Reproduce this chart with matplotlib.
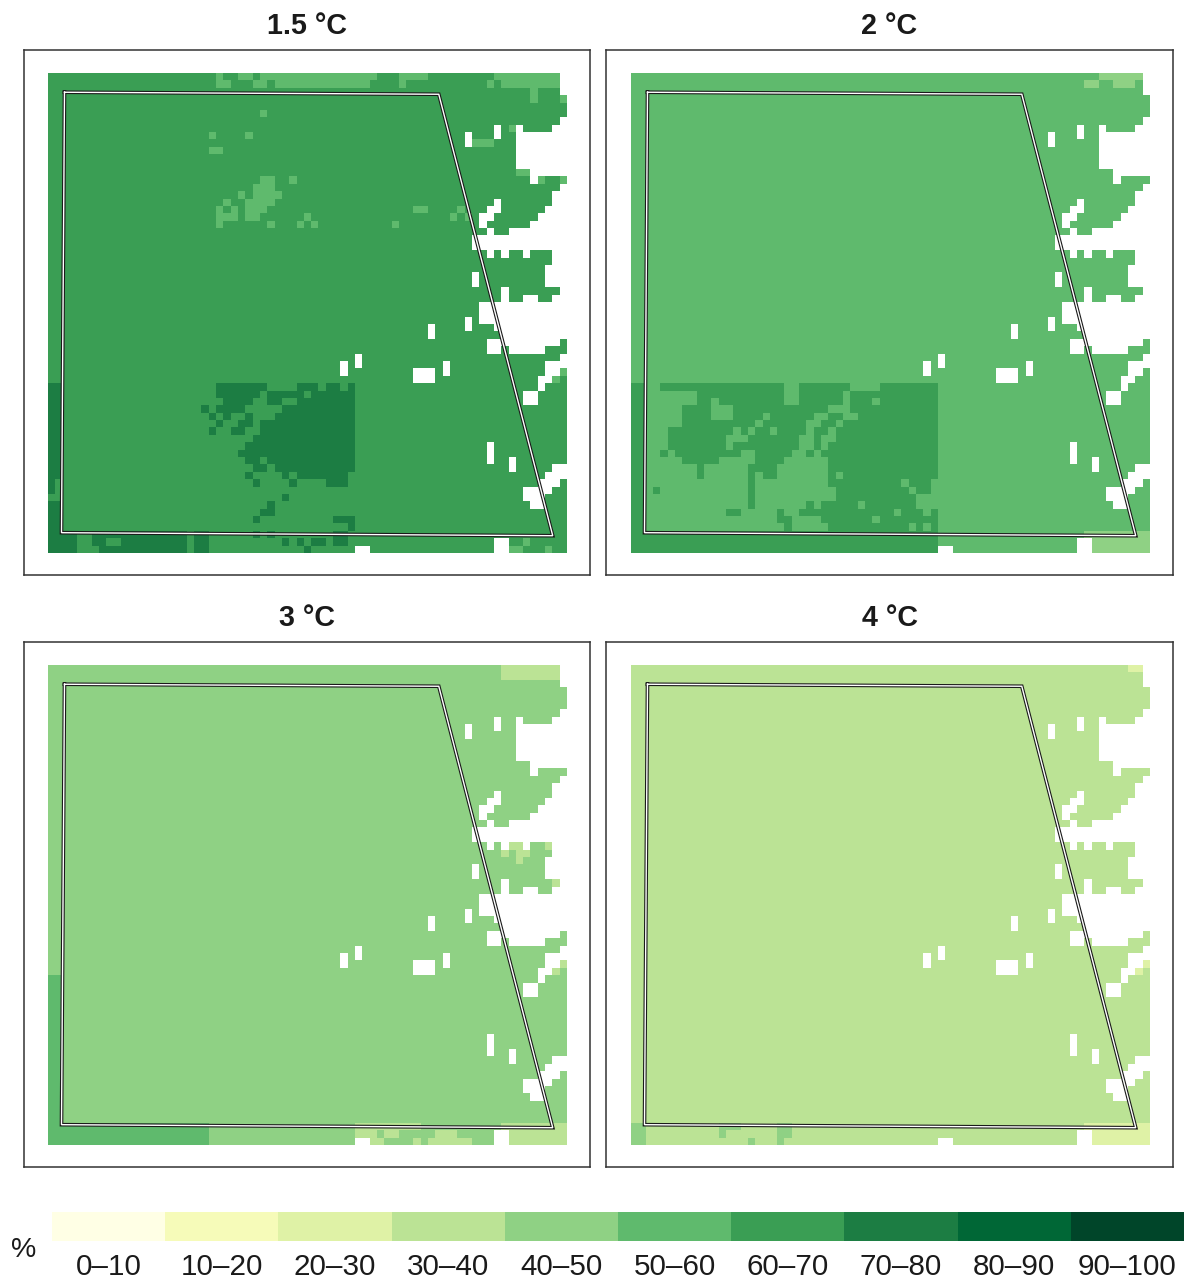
"""Four warming levels, maps of binned percent values with a shared band legend."""

import numpy as np
import matplotlib
matplotlib.use("Agg")
import matplotlib.pyplot as plt
from matplotlib.colors import BoundaryNorm, ListedColormap

plt.rcParams["font.family"] = ["Liberation Sans", "DejaVu Sans"]

# ── Bands ───────────────────────────────────────────────────────────────────────
BAND_LABELS = ["0–10", "10–20", "20–30", "30–40", "40–50",
               "50–60", "60–70", "70–80", "80–90", "90–100"]
BAND_EDGES = [0, 10, 20, 30, 40, 50, 60, 70, 80, 90, 100]
BAND_COLORS = ["#ffffe5", "#f6fbb9", "#dff2a6", "#bbe395", "#8fd184",
               "#5fba6d", "#3a9e54", "#1c7d43", "#006736", "#004529"]
TITLES = ["1.5 °C", "2 °C", "3 °C", "4 °C"]

N_ROWS = 65
N_COLS = 71

# ── Cells without data: {row: [(first col, last col), ...]} ────────────────────
NO_DATA = {
    0: [(70, 70)], 1: [(70, 70)], 2: [(70, 70)], 6: [(70, 70)],
    7: [(61, 61), (64, 64), (69, 70)],
    8: [(57, 57), (61, 61), (64, 70)],
    9: [(57, 57), (64, 70)],
    10: [(64, 70)], 11: [(64, 70)], 12: [(64, 70)],
    13: [(66, 70)], 14: [(66, 66)], 15: [(70, 70)], 16: [(69, 70)],
    17: [(61, 61), (69, 70)],
    18: [(60, 61), (68, 70)],
    19: [(59, 60), (67, 70)],
    20: [(59, 59), (66, 70)],
    21: [(60, 60), (63, 70)],
    22: [(58, 70)], 23: [(58, 70)],
    24: [(60, 60), (62, 62), (65, 65), (69, 70)],
    25: [(69, 70)], 26: [(68, 70)],
    27: [(58, 58), (68, 70)], 28: [(58, 58), (68, 70)],
    29: [(62, 62), (70, 70)],
    30: [(62, 62), (65, 66), (69, 70)],
    31: [(59, 70)], 32: [(59, 70)],
    33: [(57, 57), (59, 70)],
    34: [(52, 52), (57, 57), (61, 70)],
    35: [(52, 52), (62, 70)],
    36: [(60, 69)],
    37: [(60, 61), (63, 67)],
    38: [(42, 42), (70, 70)],
    39: [(40, 40), (42, 42), (54, 54), (68, 70)],
    40: [(40, 40), (50, 52), (54, 54), (68, 69)],
    41: [(50, 52), (67, 68)],
    42: [(67, 67)], 43: [(65, 66)], 44: [(65, 66)],
    50: [(60, 60)], 51: [(60, 60)],
    52: [(60, 60), (63, 63)],
    53: [(63, 63), (69, 70)],
    54: [(68, 70)], 55: [(67, 69)], 56: [(65, 68)], 57: [(65, 67)], 58: [(66, 67)],
    63: [(61, 62)],
    64: [(42, 43), (61, 62)],
}

# ── 1.5 °C: base 65, patches of 55 and 75 ──────────────────────────────────────
P15_BASE = 65
P15_55 = {
    0: [(23, 23), (26, 27), (29, 44), (48, 51), (61, 69)],
    1: [(23, 24), (28, 29), (31, 43), (48, 48), (60, 60), (62, 69)],
    2: [(66, 66)],
    3: [(66, 66), (70, 70)],
    5: [(29, 29)],
    7: [(63, 63)],
    8: [(22, 22), (27, 27)],
    9: [(58, 60)],
    10: [(22, 23)],
    13: [(64, 65)],
    14: [(29, 30), (33, 33), (67, 67), (70, 70)],
    15: [(28, 30)],
    16: [(26, 26), (28, 31)],
    17: [(24, 24), (27, 30)],
    18: [(23, 23), (25, 25), (27, 29), (50, 51), (56, 56)],
    19: [(23, 25), (27, 28), (35, 35), (55, 55), (57, 57)],
    20: [(23, 23), (30, 30), (34, 34), (36, 36), (47, 47)],
    41: [(69, 69)],
    40: [(70, 70)],
    63: [(65, 65)],
    64: [(63, 64), (68, 68)],
}
P15_75 = {
    42: [(0, 1), (23, 29), (34, 36), (38, 39), (41, 41)],
    43: [(0, 1), (23, 28), (30, 34), (36, 41)],
    44: [(0, 1), (24, 27), (30, 31), (34, 41)],
    45: [(0, 1), (21, 21), (23, 26), (32, 41)],
    46: [(0, 1), (22, 22), (24, 24), (27, 27), (31, 41)],
    47: [(0, 1), (23, 23), (26, 27), (29, 41)],
    48: [(0, 1), (22, 22), (25, 26), (29, 41)],
    49: [(0, 1), (28, 41)],
    50: [(0, 1), (27, 41)],
    51: [(0, 1), (26, 41)],
    52: [(0, 1), (27, 28), (30, 41)],
    53: [(0, 1), (28, 29), (31, 41)],
    54: [(0, 1), (27, 27), (32, 32), (34, 40)],
    55: [(0, 0), (28, 28), (33, 33), (38, 40)],
    56: [(0, 0)],
    57: [(32, 32)],
    58: [(0, 1), (30, 30)],
    59: [(0, 1), (29, 30)],
    60: [(0, 1), (28, 28), (39, 41)],
    61: [(0, 1), (41, 41)],
    62: [(0, 3), (6, 18), (20, 21), (28, 28), (30, 30), (39, 40)],
    63: [(0, 3), (6, 7), (10, 18), (20, 21), (32, 32), (34, 34), (36, 37), (39, 40)],
    64: [(0, 3), (7, 18), (20, 21), (35, 35)],
}

# ── 2 °C: base 55, patches of 45 and 65 ────────────────────────────────────────
P2_BASE = 55
P2_45 = {
    0: [(64, 69)],
    1: [(62, 63), (66, 68)],
    62: [(62, 70)],
    63: [(63, 70)],
    64: [(63, 70)],
}
P2_65 = {
    42: [(0, 1), (4, 20), (23, 29), (34, 41)],
    43: [(0, 1), (9, 20), (23, 28), (30, 41)],
    44: [(0, 1), (9, 10), (12, 20), (23, 28), (30, 32), (34, 41)],
    45: [(0, 1), (7, 10), (14, 26), (30, 41)],
    46: [(0, 1), (7, 10), (14, 17), (19, 24), (27, 28), (31, 41)],
    47: [(0, 1), (7, 16), (18, 23), (26, 27), (29, 41)],
    48: [(0, 1), (5, 13), (15, 15), (17, 18), (20, 23), (25, 26), (28, 41)],
    49: [(0, 1), (5, 12), (16, 22), (25, 25), (28, 41)],
    50: [(0, 1), (5, 12), (14, 22), (25, 25), (27, 41)],
    51: [(0, 1), (4, 4), (6, 14), (17, 21), (24, 24), (26, 41)],
    52: [(0, 1), (7, 11), (17, 20), (27, 41)],
    53: [(0, 1), (9, 9), (16, 19), (27, 41)],
    54: [(0, 1), (9, 9), (16, 16), (18, 19), (27, 27), (29, 41)],
    55: [(0, 1), (16, 16), (27, 36), (38, 40)],
    56: [(0, 1), (3, 3), (16, 16), (28, 37), (39, 40)],
    57: [(0, 1), (16, 16), (28, 38)],
    58: [(0, 1), (16, 16), (24, 24), (26, 30), (32, 38)],
    59: [(0, 1), (13, 14), (20, 20), (23, 35), (37, 39), (41, 41)],
    60: [(0, 1), (20, 21), (26, 32), (34, 41)],
    61: [(0, 1), (21, 21), (27, 37), (39, 39), (41, 41)],
    62: [(0, 41)],
    63: [(0, 41)],
    64: [(0, 41)],
}

# ── 3 °C: base 45, patches of 35 and 55 ────────────────────────────────────────
P3_BASE = 45
P3_35 = {
    0: [(62, 69)],
    1: [(62, 69)],
    24: [(63, 64), (68, 68)],
    25: [(62, 62), (64, 65)],
    26: [(64, 64)],
    29: [(69, 69)],
    40: [(70, 70)],
    41: [(69, 69)],
    62: [(42, 50), (62, 70)],
    63: [(42, 44), (46, 47), (53, 55), (63, 70)],
    64: [(44, 45), (50, 50), (52, 57), (63, 70)],
}
P3_55 = {
    42: [(0, 1)], 43: [(0, 1)], 44: [(0, 1)], 45: [(0, 1)], 46: [(0, 1)],
    47: [(0, 1)], 48: [(0, 1)], 49: [(0, 1)], 50: [(0, 1)], 51: [(0, 1)],
    52: [(0, 1)], 53: [(0, 1)], 54: [(0, 1)], 55: [(0, 1)], 56: [(0, 1)],
    57: [(0, 1)], 58: [(0, 1)], 59: [(0, 1)], 60: [(0, 1)], 61: [(0, 1)],
    62: [(0, 21)],
    63: [(0, 21)],
    64: [(0, 21)],
}

# ── 4 °C: base 35, patches of 25 and 45 ────────────────────────────────────────
P4_BASE = 35
P4_25 = {
    0: [(68, 69)],
    40: [(70, 70)],
    41: [(69, 69)],
    62: [(62, 70)],
    63: [(63, 70)],
    64: [(63, 70)],
}
P4_45 = {
    62: [(0, 1), (12, 14), (20, 21)],
    63: [(0, 1), (12, 12), (20, 21)],
    64: [(0, 1), (16, 16), (20, 20)],
}

# Region outline, in grid units
OUTLINE_COL = [2.26, 53.56, 69.18, 1.85, 2.26]
OUTLINE_ROW = [2.57, 2.84, 62.70, 62.29, 2.57]

PANELS = [
    (P15_BASE, [(55, P15_55), (75, P15_75)]),
    (P2_BASE, [(45, P2_45), (65, P2_65)]),
    (P3_BASE, [(35, P3_35), (55, P3_55)]),
    (P4_BASE, [(25, P4_25), (45, P4_45)]),
]

# ── Layout, in pixels of the 1184×1281 figure ──────────────────────────────────
FIG_W, FIG_H = 1184, 1281
FRAMES = [(24, 50, 590, 575), (606, 50, 1173, 575),
          (24, 642, 590, 1167), (606, 642, 1173, 1167)]
MAP_ORIGINS = [(48, 73.3), (631, 73.3), (48, 665.3), (631, 665.3)]
CELL_W, CELL_H = 7.296, 7.375


def px_axes(fig, x0, y0, x1, y1):
    return fig.add_axes([x0 / FIG_W, 1 - y1 / FIG_H, (x1 - x0) / FIG_W, (y1 - y0) / FIG_H])


def fill_runs(grid, value, runs):
    for row, spans in runs.items():
        for c0, c1 in spans:
            grid[row, c0:c1 + 1] = value


cmap = ListedColormap(BAND_COLORS)
cmap.set_bad("white")
norm = BoundaryNorm(BAND_EDGES, cmap.N)

fig = plt.figure(figsize=(FIG_W / 100, FIG_H / 100), dpi=100)

for (base, patches), title, (x0, y0, x1, y1), (mx, my) in zip(PANELS, TITLES, FRAMES, MAP_ORIGINS):
    ax = px_axes(fig, x0, y0, x1, y1)

    grid = np.full((N_ROWS, N_COLS), float(base))
    for value, runs in patches:
        fill_runs(grid, value, runs)
    fill_runs(grid, np.nan, NO_DATA)

    ax.imshow(grid, cmap=cmap, norm=norm, interpolation="nearest", aspect="auto",
              extent=(0, N_COLS, N_ROWS, 0))

    ax.plot(OUTLINE_COL, OUTLINE_ROW, color="#1a1a1a", lw=2.6, solid_joinstyle="miter")
    ax.plot(OUTLINE_COL, OUTLINE_ROW, color="white", lw=1.0, solid_joinstyle="miter")

    ax.set_xlim((x0 - mx) / CELL_W, (x1 - mx) / CELL_W)
    ax.set_ylim((y1 - my) / CELL_H, (y0 - my) / CELL_H)
    ax.set_xticks([])
    ax.set_yticks([])
    for spine in ax.spines.values():
        spine.set_linewidth(1.1)
        spine.set_color("#333333")
    ax.set_title(title, fontsize=20.7, fontweight="bold", color="#1a1a1a", pad=11.5)

# ── Band legend ────────────────────────────────────────────────────────────────
cax = px_axes(fig, 52, 1212, 1184, 1241)
cax.bar(np.arange(len(BAND_LABELS)), np.ones(len(BAND_LABELS)), width=1.0,
        color=BAND_COLORS, linewidth=0)
cax.set_xlim(-0.5, len(BAND_LABELS) - 0.5)
cax.set_ylim(0, 1)
cax.set_yticks([])
cax.set_xticks(np.arange(len(BAND_LABELS)))
cax.set_xticklabels(BAND_LABELS, fontsize=21.3, color="#1a1a1a")
cax.tick_params(axis="x", length=0, pad=8.5)
for spine in cax.spines.values():
    spine.set_visible(False)

fig.text(23.5 / FIG_W, 1 - 1250 / FIG_H, "%", fontsize=20.5, color="#1a1a1a",
         ha="center", va="center")

fig.savefig("out.png", dpi=100)
